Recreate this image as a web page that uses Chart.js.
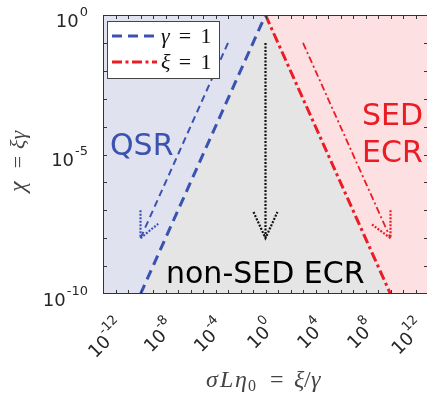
<!DOCTYPE html>
<html>
<head>
<meta charset="utf-8">
<script src="https://cdn.jsdelivr.net/npm/chart.js@4/dist/chart.umd.min.js"></script>
<style>
  html, body { margin: 0; padding: 0; background: #fff; overflow: hidden; }
  canvas { display: block; }
</style>
</head>
<body>
<canvas id="regimes" width="428" height="401"></canvas>
<script>
// axis limits
const xLimits = [1e-13, 1e13];
const yLimits = [1e-10, 1];

// labelled ticks (base 10, exponent written as superscript)
const xTickValues = [1e-12, 1e-8, 1e-4, 1, 1e4, 1e8, 1e12];
const xTickExps = ["-12", "-8", "-4", "0", "4", "8", "12"];
const yTickValues = [1, 1e-5, 1e-10];
const yTickExps = ["0", "-5", "-10"];

// gamma = 1 and xi = 1 boundaries
const gammaOneX = [1e-10, 1];
const gammaOneY = [1e-10, 1];
const xiOneX = [1, 1e10];
const xiOneY = [1, 1e-10];

// shaded regimes
const qsrX = [1e-13, 1e-10, 1];
const qsrY = [1e-10, 1e-10, 1];
const sedX = [1, 1e10, 1e13];
const sedY = [1, 1e-10, 1e-10];
const nonSedX = [1e-10, 1, 1e10];
const nonSedY = [1e-10, 1, 1e-10];

// arrows and their heads
const qsrArrowX = [1e-3, 1e-10];
const qsrArrowY = [1e-1, 1e-8];
const qsrHeadX = [1e-10, 1e-10, 2.6e-9];
const qsrHeadY = [1e-7, 1e-8, 3.3e-8];
const midArrowX = [1, 1];
const midArrowY = [1e-1, 1e-8];
const midHeadX = [0.11, 1, 9];
const midHeadY = [8.7e-8, 1e-8, 8.7e-8];
const sedArrowX = [1e3, 1e10];
const sedArrowY = [1e-1, 1e-8];
const sedHeadX = [1e10, 1e10, 3.3e8];
const sedHeadY = [1e-7, 1e-8, 3.1e-8];

const BLUE = "#3a52b0";
const RED = "#ec1c24";

const pts = (xs, ys) => xs.map((x, i) => ({ x: x, y: ys[i] }));

function region(xs, ys, color, fill) {
  return { data: pts(xs, ys), borderWidth: 0, borderColor: "rgba(0,0,0,0)",
    backgroundColor: color, fill: fill, order: 3 };
}

function stroke(xs, ys, color, width, dash, order) {
  return { data: pts(xs, ys), borderColor: color, borderWidth: width,
    borderDash: dash, fill: false, order: order };
}

const datasets = [
  region(qsrX, qsrY, "#e1e2f0", "end"),
  region(sedX, sedY, "#fce0e2", "end"),
  region(nonSedX, nonSedY, "#e4e5e4", "start"),
  Object.assign(stroke(gammaOneX, gammaOneY, BLUE, 3, [10, 6], 1), { label: "γ" }),
  Object.assign(stroke(xiOneX, xiOneY, RED, 3, [10, 3.5, 3, 3.5], 1), { label: "ξ" }),
  stroke(qsrArrowX, qsrArrowY, BLUE, 2, [7, 4.5], 0),
  stroke(qsrHeadX, qsrHeadY, BLUE, 2.2, [2, 1.5], 0),
  stroke(midArrowX, midArrowY, "#111", 2.2, [2, 1.5], 0),
  stroke(midHeadX, midHeadY, "#111", 2.2, [2, 1.5], 0),
  stroke(sedArrowX, sedArrowY, RED, 1.8, [7, 3, 2, 3], 0),
  stroke(sedHeadX, sedHeadY, RED, 2.2, [2, 1.5], 0)
];

const TICK_FONT = '18px "DejaVu Sans"';
const SUP_FONT = '13px "DejaVu Sans"';
const MATH_FONT = 'italic 22px "Liberation Serif"';
const UP_FONT = '22px "Liberation Serif"';

// draws pieces of a formula at fixed x offsets: [text, x, font, dy]
function formula(ctx, parts, y) {
  parts.forEach(p => {
    ctx.font = p[2];
    ctx.fillText(p[0], p[1], y + (p[3] || 0));
  });
}

// frame, ticks, labels, legend and regime names
const decorations = {
  id: "decorations",
  afterDatasetsDraw(chart) {
    const ctx = chart.ctx;
    const area = chart.chartArea;
    const xs = chart.scales.x;
    const ys = chart.scales.y;
    ctx.save();

    // regime names
    ctx.font = '30px "DejaVu Sans"';
    ctx.textBaseline = "alphabetic";
    ctx.textAlign = "left";
    ctx.fillStyle = BLUE;
    ctx.fillText("QSR", 110, 155);
    ctx.fillStyle = RED;
    ctx.fillText("SED", 362, 125);
    ctx.fillText("ECR", 362, 162);
    ctx.fillStyle = "#000";
    ctx.fillText("non-SED ECR", 166, 283);

    // box with inward ticks every decade
    ctx.strokeStyle = "#333";
    ctx.lineWidth = 1;
    ctx.setLineDash([]);
    ctx.strokeRect(area.left + 0.5, area.top + 0.5, area.right - area.left - 1, area.bottom - area.top - 1);
    ctx.beginPath();
    for (let e = -12; e <= 12; e++) {
      const px = Math.round(xs.getPixelForValue(Math.pow(10, e))) + 0.5;
      ctx.moveTo(px, area.bottom); ctx.lineTo(px, area.bottom - 4);
      ctx.moveTo(px, area.top); ctx.lineTo(px, area.top + 4);
    }
    for (let e = -9; e <= -1; e++) {
      const py = Math.round(ys.getPixelForValue(Math.pow(10, e))) + 0.5;
      ctx.moveTo(area.left, py); ctx.lineTo(area.left + 4, py);
      ctx.moveTo(area.right, py); ctx.lineTo(area.right - 4, py);
    }
    ctx.stroke();

    // tick labels
    ctx.fillStyle = "#262626";
    yTickValues.forEach((v, i) => {
      const py = ys.getPixelForValue(v);
      ctx.font = SUP_FONT;
      const ws = ctx.measureText(yTickExps[i]).width;
      ctx.font = TICK_FONT;
      const wb = ctx.measureText("10").width;
      const x0 = 88 - ws - wb - 1;
      ctx.fillText("10", x0, py + 11.5);
      ctx.font = SUP_FONT;
      ctx.fillText(yTickExps[i], x0 + wb + 1, py + 0.5);
    });
    xTickValues.forEach((v, i) => {
      const px = xs.getPixelForValue(v);
      ctx.save();
      ctx.translate(px + 6.5, area.bottom + 29);
      ctx.rotate(-Math.PI / 4);
      ctx.font = SUP_FONT;
      const ws = ctx.measureText(xTickExps[i]).width;
      ctx.font = TICK_FONT;
      const wb = ctx.measureText("10").width;
      ctx.fillText("10", -ws - wb, 6.5);
      ctx.font = SUP_FONT;
      ctx.fillText(xTickExps[i], -ws - 0.5, -4.5);
      ctx.restore();
    });

    // axis titles
    ctx.fillStyle = "#444";
    ctx.textAlign = "left";
    const big = 'italic 24px "Liberation Serif"';
    formula(ctx, [
      ["σ", 206, big], ["L", 220, big], ["η", 235, big],
      ["0", 248, '16px "Liberation Serif"', 4],
      ["=", 270, '24px "Liberation Serif"'],
      ["ξ", 294, big], ["/", 304, '24px "Liberation Serif"'], ["γ", 311, big]
    ], 387);
    ctx.save();
    ctx.translate(25, 192);
    ctx.rotate(-Math.PI / 2);
    ctx.fillText("χ", 0, 0);
    ctx.font = UP_FONT;
    ctx.textAlign = "center";
    ctx.fillText("=", 30, 0);
    ctx.font = MATH_FONT;
    ctx.textAlign = "left";
    ctx.fillText("ξγ", 43, 0);
    ctx.restore();

    // legend
    ctx.fillStyle = "#fff";
    ctx.fillRect(107, 21, 112, 57);
    ctx.strokeStyle = "#444";
    ctx.strokeRect(107.5, 21.5, 112, 57);
    [datasets[3], datasets[4]].forEach((ds, i) => {
      const ly = 36 + i * 26;
      ctx.strokeStyle = ds.borderColor;
      ctx.lineWidth = ds.borderWidth;
      ctx.setLineDash(ds.borderDash);
      ctx.beginPath();
      ctx.moveTo(112, ly);
      ctx.lineTo(157, ly);
      ctx.stroke();
      ctx.setLineDash([]);
      ctx.fillStyle = "#111";
      ctx.textAlign = "left";
      ctx.font = MATH_FONT;
      ctx.fillText(ds.label, 161, ly + 7);
      ctx.textAlign = "center";
      ctx.font = UP_FONT;
      ctx.fillText("=", 185, ly + 7);
      ctx.fillText("1", 206, ly + 7);
    });

    ctx.restore();
  }
};

new Chart(document.getElementById("regimes"), {
  type: "line",
  data: { datasets: datasets },
  options: {
    responsive: false,
    animation: false,
    layout: { padding: { left: 103, top: 15, right: 0, bottom: 107 } },
    elements: { point: { radius: 0 }, line: { tension: 0 } },
    plugins: { legend: { display: false }, tooltip: { enabled: false } },
    scales: {
      x: { type: "logarithmic", min: xLimits[0], max: xLimits[1], display: false },
      y: { type: "logarithmic", min: yLimits[0], max: yLimits[1], display: false }
    }
  },
  plugins: [decorations]
});
</script>
</body>
</html>
